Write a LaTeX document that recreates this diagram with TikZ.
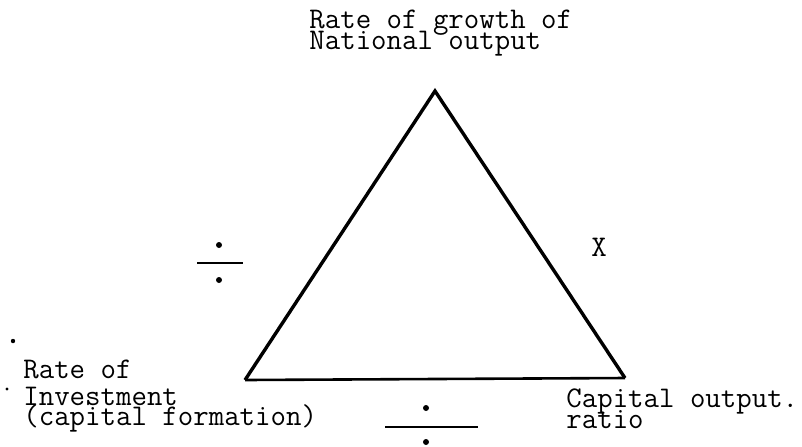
\documentclass[tikz,border=0pt]{standalone}
\tikzset{
  lbl/.style={font=\ttfamily\fontsize{15}{10}\selectfont,inner sep=0pt,anchor=base west},
  side/.style={line width=1.7pt,line join=miter},
  bar/.style={line width=1.1pt},
  spot/.style={fill=black,draw=none}
}

\begin{document}
\begin{tikzpicture}[x=0.5pt,y=-0.5pt]
\useasboundingbox (0,0) rectangle (802,446);
% corners of the triangle
\coordinate (apex) at (435,91);
\coordinate (lft) at (245,380);
\coordinate (rgt) at (625,378);
\draw[side] (lft)--(apex)--(rgt);
\draw[line width=1.3pt] (lft)--(rgt);
% labels
\node[lbl] (growth) at (309,28) {Rate of growth of};
\node[lbl] (national) at (309,49) {National output};
\node[lbl] (rate) at (23,378) {Rate of};
\node[lbl] (invest) at (23,405) {Investment};
\node[lbl] (capform) at (23,425) {(capital formation)};
\node[lbl] (capital) at (566,407) {Capital output.};
\node[lbl] (ratio) at (566,428) {ratio};
\node[lbl] (times) at (591,256) {X};
% division signs
\fill[spot] (219,245) circle (3);
\draw[bar] (197,263)--(243,263);
\fill[spot] (219,280) circle (3);
\fill[spot] (426,408) circle (3);
\draw[bar] (385,427)--(478,427);
\fill[spot] (426,442) circle (3);
% stray marks
\fill[spot] (13,341) circle (2.2);
\fill[spot] (7,389) circle (1.6);
\end{tikzpicture}
\end{document}
